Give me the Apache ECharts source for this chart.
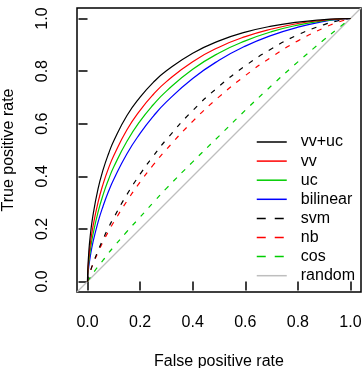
<!DOCTYPE html>
<html>
<head>
<meta charset="utf-8">
<script src="https://cdn.jsdelivr.net/npm/echarts@6/dist/echarts.min.js"></script>
<style>html,body{margin:0;padding:0;background:#fff}#c{width:364px;height:368px}</style>
</head>
<body>
<div id="c"></div>
<script>
// False positive rate grid used for reading the curves
const fpr = [0, 0.001, 0.005, 0.01, 0.02, 0.04, 0.06, 0.08, 0.1, 0.15, 0.2, 0.25, 0.3, 0.4, 0.5, 0.6, 0.7, 0.8, 0.9, 0.95, 1];
const tpr_vvuc     = [0, 0.043, 0.114, 0.170, 0.247, 0.352, 0.427, 0.486, 0.535, 0.631, 0.701, 0.757, 0.801, 0.868, 0.915, 0.948, 0.971, 0.986, 0.996, 0.999, 1];
const tpr_vv       = [0, 0.031, 0.089, 0.137, 0.205, 0.301, 0.373, 0.431, 0.479, 0.577, 0.651, 0.711, 0.760, 0.836, 0.891, 0.931, 0.960, 0.981, 0.994, 0.998, 1];
const tpr_uc       = [0, 0.024, 0.073, 0.114, 0.175, 0.264, 0.332, 0.388, 0.436, 0.533, 0.610, 0.672, 0.724, 0.807, 0.869, 0.915, 0.950, 0.975, 0.992, 0.997, 1];
const tpr_bilinear = [0, 0.018, 0.058, 0.092, 0.146, 0.226, 0.289, 0.343, 0.389, 0.486, 0.563, 0.628, 0.683, 0.772, 0.841, 0.895, 0.936, 0.967, 0.989, 0.996, 1];
const tpr_svm      = [0, 0.005, 0.020, 0.037, 0.066, 0.117, 0.163, 0.205, 0.243, 0.331, 0.408, 0.477, 0.540, 0.650, 0.742, 0.820, 0.885, 0.938, 0.977, 0.991, 1];
const tpr_nb       = [0, 0.005, 0.020, 0.036, 0.064, 0.111, 0.153, 0.191, 0.226, 0.306, 0.378, 0.443, 0.502, 0.609, 0.702, 0.783, 0.854, 0.915, 0.965, 0.985, 1];
const tpr_cos      = [0, 0.002, 0.008, 0.015, 0.030, 0.057, 0.082, 0.108, 0.132, 0.190, 0.245, 0.300, 0.354, 0.455, 0.553, 0.651, 0.745, 0.835, 0.920, 0.960, 1];
const randomX = [-0.04, 1.04];
const randomY = [-0.04, 1.04];

const names = ['vv+uc', 'vv', 'uc', 'bilinear', 'svm', 'nb', 'cos', 'random'];
const colors = ['#000000', '#FF0000', '#00CD00', '#0000FF', '#000000', '#FF0000', '#00CD00', '#BEBEBE'];
const dashed = [false, false, false, false, true, true, true, false];
const tprs = [tpr_vvuc, tpr_vv, tpr_uc, tpr_bilinear, tpr_svm, tpr_nb, tpr_cos];

const tickValues = [0, 0.2, 0.4, 0.6, 0.8, 1.0];
const tickLabels = ['0.0', '0.2', '0.4', '0.6', '0.8', '1.0'];

const font = "'Liberation Sans', Arial, sans-serif";
const zip = (xs, ys) => xs.map((x, i) => [x, ys[i]]);

const series = names.map((n, i) => ({
  name: n,
  type: 'line',
  data: i < 7 ? zip(fpr, tprs[i]) : zip(randomX, randomY),
  showSymbol: false,
  symbol: 'none',
  smooth: i < 7 ? 0.5 : false,
  animation: false,
  z: i === 7 ? 1 : 10 - i,
  lineStyle: { color: colors[i], width: 1.2, type: dashed[i] ? [5, 7] : 'solid' },
  itemStyle: { color: colors[i] }
}));

const axisCommon = {
  type: 'value',
  min: -0.04,
  max: 1.04,
  splitLine: { show: false },
  axisLine: { show: false },
  axisTick: { show: true, inside: false, length: 9, customValues: tickValues, lineStyle: { color: '#000', width: 1.5 } },
  axisLabel: {
    customValues: tickValues,
    formatter: v => tickLabels[tickValues.findIndex(t => Math.abs(t - v) < 1e-9)],
    fontSize: 16, color: '#000', fontFamily: font, margin: 23
  },
  nameLocation: 'middle',
  nameMoveOverlap: false,
  nameTextStyle: { fontSize: 16, color: '#000', fontFamily: font }
};

const chart = echarts.init(document.getElementById('c'), null, { renderer: 'canvas' });
chart.setOption({
  animation: false,
  backgroundColor: '#fff',
  grid: { left: 77, top: 8, width: 284, height: 284, show: true, borderColor: '#000', borderWidth: 1.5, backgroundColor: 'transparent', containLabel: false, outerBoundsMode: 'none' },
  xAxis: Object.assign({}, axisCommon, { name: 'False positive rate', nameGap: 62 }),
  yAxis: Object.assign({}, axisCommon, {
    name: 'True positive rate', nameGap: 60,
    axisLabel: Object.assign({}, axisCommon.axisLabel, { rotate: 90, margin: 26 })
  }),
  legend: {
    orient: 'vertical',
    left: 256, top: 134,
    padding: 0,
    itemWidth: 30, itemHeight: 1, itemGap: 3.1,
    selectedMode: false,
    data: names.map((n, i) => ({
      name: n,
      lineStyle: { color: colors[i], width: 1.5, type: dashed[i] ? [9, 9] : 'solid' }
    })),
    itemStyle: { opacity: 0 },
    textStyle: { fontSize: 16, color: '#000', fontFamily: font, padding: [0, 0, 0, 9] }
  },
  series: series
});
</script>
</body>
</html>
